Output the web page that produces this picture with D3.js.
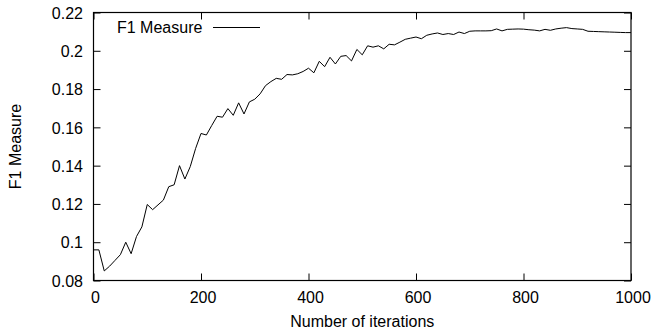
<!DOCTYPE html>
<html>
<head>
<meta charset="utf-8">
<script src="https://cdn.jsdelivr.net/npm/d3@7"></script>
<style>
html,body{margin:0;padding:0;background:#fff;}
svg{display:block;}
text{font-family:"Liberation Sans",Arial,Helvetica,sans-serif;fill:#000;}
</style>
</head>
<body>
<svg id="chart" width="651" height="333"></svg>
<script>
const iterations = d3.range(0, 1001, 10);
const f1Values = [
  0.0960, 0.0960, 0.0850, 0.0875, 0.0905, 0.0935, 0.1000, 0.0940, 0.1030, 0.1080,
  0.1197, 0.1170, 0.1195, 0.1220, 0.1290, 0.1300, 0.1400, 0.1330, 0.1395, 0.1490,
  0.1568, 0.1560, 0.1610, 0.1658, 0.1653, 0.1698, 0.1663, 0.1728, 0.1670, 0.1733,
  0.1747, 0.1775, 0.1818, 0.1839, 0.1856, 0.1851, 0.1876, 0.1874, 0.1880, 0.1892,
  0.1909, 0.1885, 0.1945, 0.1917, 0.1966, 0.1931, 0.1971, 0.1975, 0.1947, 0.2007,
  0.1979, 0.2026, 0.2019, 0.2026, 0.2010, 0.2034, 0.2031, 0.2045, 0.2060, 0.2066,
  0.2072, 0.2063, 0.2081, 0.2088, 0.2093, 0.2085, 0.2090, 0.2085, 0.2098, 0.2090,
  0.2102, 0.2104, 0.2104, 0.2104, 0.2105, 0.2114, 0.2104, 0.2112, 0.2113, 0.2114,
  0.2113, 0.2110, 0.2108, 0.2104, 0.2112, 0.2107, 0.2114, 0.2118, 0.2121, 0.2116,
  0.2114, 0.2112, 0.2102, 0.2101, 0.2100, 0.2099, 0.2098, 0.2097, 0.2096, 0.2095,
  0.2095
];
const xTicks = [0, 200, 400, 600, 800, 1000];
const yTicks = [0.08, 0.1, 0.12, 0.14, 0.16, 0.18, 0.2, 0.22];
const seriesName = "F1 Measure";
const xTitle = "Number of iterations";
const yTitle = "F1 Measure";

const data = iterations.map((it, i) => ({x: it, y: f1Values[i]}));

const svg = d3.select("#chart");
const mLeft = 93.5, mRight = 631, mTop = 12.5, mBottom = 280.5;
const x = d3.scaleLinear().domain([0, 1000]).range([mLeft, mRight]);
const y = d3.scaleLinear().domain([0.08, 0.22]).range([mBottom, mTop]);
const tickLen = 7;
const fs = "16px";

const xAxisB = d3.axisBottom(x).tickValues(xTicks).tickSize(-tickLen).tickFormat(d3.format("d"));
const gB = svg.append("g").attr("transform", `translate(0,${mBottom})`).call(xAxisB);
const xAxisT = d3.axisTop(x).tickValues(xTicks).tickSize(-tickLen).tickFormat("");
const gT = svg.append("g").attr("transform", `translate(0,${mTop})`).call(xAxisT);
const yAxisL = d3.axisLeft(y).tickValues(yTicks).tickSize(-tickLen).tickFormat(d => String(+d.toFixed(2)));
const gL = svg.append("g").attr("transform", `translate(${mLeft},0)`).call(yAxisL);
const yAxisR = d3.axisRight(y).tickValues(yTicks).tickSize(-tickLen).tickFormat("");
const gR = svg.append("g").attr("transform", `translate(${mRight},0)`).call(yAxisR);

[gB, gT, gL, gR].forEach(g => {
  g.select(".domain").remove();
  g.selectAll(".tick line").attr("stroke", "#000").attr("stroke-width", 1);
  g.selectAll("text").style("font-size", fs).attr("font-family", null).attr("fill", "#000");
});
gB.selectAll(".tick text").attr("dy", null).attr("y", 22).attr("x", 1.5);
gL.selectAll(".tick text").attr("dy", "0.36em").attr("x", -10.5);

svg.append("rect")
  .attr("x", mLeft).attr("y", mTop)
  .attr("width", mRight - mLeft).attr("height", mBottom - mTop)
  .attr("fill", "none").attr("stroke", "#000").attr("stroke-width", 1.2);

const line = d3.line().x(d => x(d.x)).y(d => y(d.y));
svg.append("path").datum(data)
  .attr("d", line)
  .attr("fill", "none").attr("stroke", "#000").attr("stroke-width", 1)
  .attr("stroke-linejoin", "miter");

svg.append("text").attr("x", 117).attr("y", 33)
  .style("font-size", fs).text(seriesName);
svg.append("line").attr("x1", 213).attr("x2", 260).attr("y1", 27.5).attr("y2", 27.5)
  .attr("stroke", "#000").attr("stroke-width", 1);

svg.append("text").attr("x", (mLeft + mRight) / 2).attr("y", 327)
  .attr("text-anchor", "middle").style("font-size", fs).text(xTitle);
svg.append("text")
  .attr("transform", `translate(21,${(mTop + mBottom) / 2}) rotate(-90)`)
  .attr("text-anchor", "middle").style("font-size", fs).text(yTitle);
</script>
</body>
</html>
